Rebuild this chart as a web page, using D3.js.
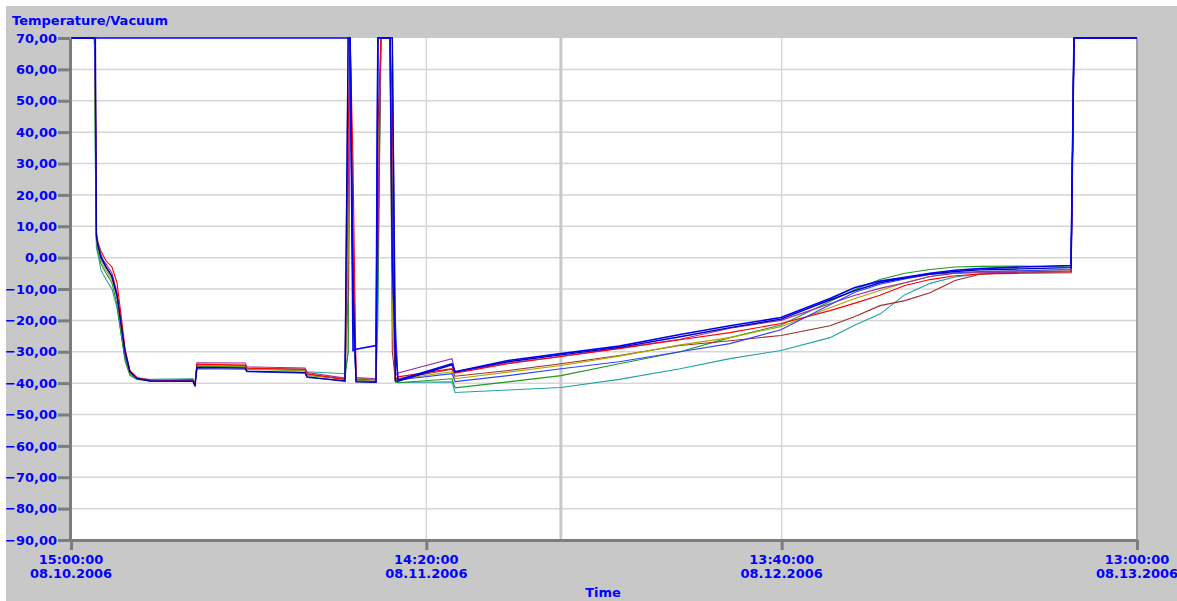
<!DOCTYPE html>
<html><head><meta charset="utf-8">
<script src="https://cdn.jsdelivr.net/npm/d3@7"></script>
<style>
html,body{margin:0;padding:0;background:#fff;}
svg{display:block;}
text{font-family:"DejaVu Sans","Liberation Sans",Arial,sans-serif;font-weight:bold;fill:#0000ff;}
</style></head><body>
<svg id="chart" width="1177" height="601"></svg>
<script>
// ---- data (hours since 08.10.2006 15:00:00) ----
const hours = [0, 1.54, 1.60, 1.67, 1.77, 1.97, 2.30, 2.69, 3.02, 3.28, 3.55, 3.87, 4.33, 5.19, 8.01, 8.14, 8.27, 11.43, 11.56, 15.37, 15.50, 17.99, 18.20, 18.33, 18.52, 18.72, 20.03, 20.15, 20.35, 20.95, 21.10, 21.30, 21.47, 25.02, 25.22, 28.70, 32.18, 36.00, 40.00, 43.27, 46.62, 49.84, 51.48, 53.12, 54.76, 56.41, 58.05, 59.69, 62.32, 65.67, 65.86, 70.00];

const teal = [70, 70, 30, 3, 1,  -4, -7, -10, -16, -24,  -32, -37, -38.5, -38.8, -38.6,
  -40.5, -34.8, -34.6, -35.2, -35.6,  -36.4, -37.0, -30, 70, -20,  -38.8, -38.9, -20, 70, 70,
  -10, -39.5, -39.8, -39.6, -43.0,  -42.2, -41.4, -38.8, -35.4, -32.2,  -29.6, -25.5, -21.5, -18.0, -11.8,
  -8.2, -6.2, -5.2, -4.8, -4.6,  70, 70];
const green = [70, 70, 35, 5, 2,  -2, -5, -8, -15, -24,  -33, -37.5, -38.8, -39.3, -38.8,
  -40.6, -34.6, -34.8, -35.6, -36.0,  -37.6, -38.6, -30, 70, -10,  -39.2, -39.4, -10, 70, 70,
  20, -39.6, -39.9, -38.6, -41.5,  -39.6, -37.6, -33.8, -30.0, -25.5,  -21.5, -14.0, -10.2, -7.0, -5.0,
  -3.8, -3.0, -2.8, -2.7, -3.0,  70, 70];
const maroon = [70, 70, 50, 6, 3,  0, -3, -6, -12, -21,  -31, -36.5, -38.5, -39.2, -39.3,
  -40.8, -34.2, -34.4, -35.4, -35.8,  -37.2, -38.8, -10, 70, -5,  -38.6, -39.0, 0, 70, 70,
  -30, -38.9, -38.6, -35.6, -37.8,  -36.0, -33.8, -31.2, -28.0, -26.5,  -24.8, -21.7, -18.8, -15.3, -13.7,
  -11.2, -7.3, -5.3, -4.6, -4.2,  70, 70];
const olive = [70, 70, 45, 6, 3,  -1, -4, -7, -13, -22,  -31, -36.8, -38.6, -39.1, -39.2,
  -40.7, -34.4, -34.6, -35.5, -35.9,  -37.4, -38.6, 0, 70, 10,  -38.4, -38.8, 30, 70, 70,
  -20, -38.5, -38.8, -36.4, -38.6,  -36.5, -34.4, -31.4, -27.8, -25.5,  -22.0, -16.0, -13.0, -10.5, -8.0,
  -6.0, -5.0, -4.6, -4.2, -3.8,  70, 70];
const purple = [70, 70, 55, 7, 4,  0, -2, -5, -11, -20,  -30, -36.2, -38.4, -39.1, -39.2,
  -40.6, -33.5, -33.6, -34.8, -35.2,  -36.6, -38.4, 20, 70, 0,  -38.2, -38.6, 10, 70, 70,
  0, -37.5, -36.8, -32.2, -36.6,  -33.6, -31.5, -28.8, -26.0, -22.5,  -20.0, -14.7, -12.0, -9.8, -8.0,
  -6.0, -5.0, -4.8, -4.6, -4.4,  70, 70];
const red = [70, 70, 60, 8, 5,  2, -1, -3, -8, -18,  -29, -36, -38.2, -39.0, -39.1,
  -40.5, -34.0, -34.2, -35.2, -35.6,  -37.0, -38.8, 40, 70, 30,  -39.3, -39.5, 40, 70, 70,
  50, -38.8, -38.0, -35.4, -36.8,  -33.8, -31.5, -29.0, -26.2, -23.9,  -21.0, -16.9, -14.5, -12.0, -8.9,
  -7.0, -5.8, -5.2, -5.0, -4.8,  70, 70];
const blueLow = [70, 70, 50, 6, 4,  1, -3, -6, -12, -21,  -31, -36.5, -38.6, -39.3, -39.4,
  -40.8, -35.4, -35.6, -36.4, -36.8,  -38.2, -39.2, 70, 70, -20,  -39.4, -39.6, 70, 70, 70,
  70, -20, -39.0, -37.0, -39.5,  -37.6, -35.4, -33.2, -30.0, -27.4,  -23.0, -15.0, -11.0, -8.5, -6.8,
  -5.4, -4.8, -4.4, -4.2, -3.8,  70, 70];
const navy = [70, 70, 70, 7, 4,  0, -3, -6, -12, -21,  -30, -36.4, -38.5, -39.3, -39.4,
  -40.9, -35.0, -35.2, -36.2, -36.6,  -38.0, -39.4, 70, 70, -10,  -39.6, -39.7, 70, 70, 70,
  70, -39.2, -39.4, -34.2, -36.4,  -33.2, -31.0, -28.6, -25.2, -22.3,  -19.6, -13.5, -10.5, -8.0, -6.5,
  -5.2, -4.4, -3.9, -3.6, -3.2,  70, 70];
const blueTop = [70, 70, 70, 70, 70,  70, 70, 70, 70, 70,  70, 70, 70, 70, 70,
  70, 70, 70, 70, 70,  70, 70, 70, 70, -29.6,  -29.2, -28.0, 70, 70, 70,
  -2.5, -27.5, -39.0, -33.8, -36.4,  -32.8, -30.6, -28.2, -24.5, -21.7,  -19.1, -13.0, -9.5, -7.5, -6.3,
  -5.0, -4.0, -3.5, -3.0, -2.5,  70, 70];

const seriesNames = ["teal", "green", "maroon", "olive", "purple", "red", "blueLow", "navy", "blueTop"];
const seriesValues = [teal, green, maroon, olive, purple, red, blueLow, navy, blueTop];
const seriesColors = ["#26a0a0", "#1f981f", "#a02c2c", "#a8a800", "#a028a0", "#ff0000", "#3040ff", "#0000b0", "#0000ff"];
const seriesWidths = [1.1, 1.1, 1.1, 1.1, 1.1, 1.1, 1.1, 1.4, 1.6];

const yTicks = [70, 60, 50, 40, 30, 20, 10, 0, -10, -20, -30, -40, -50, -60, -70, -80, -90];
const xTickHours = [0, 23.3333, 46.6667, 70];
const xTickTimes = ["15:00:00", "14:20:00", "13:40:00", "13:00:00"];
const xTickDates = ["08.10.2006", "08.11.2006", "08.12.2006", "08.13.2006"];
const cursorHour = 32.17;
const title = "Temperature/Vacuum";
const xTitle = "Time";

// ---- drawing ----
const W = 1177, H = 601;
const svg = d3.select("#chart");
svg.append("rect").attr("x", 6).attr("y", 6).attr("width", W - 6).attr("height", H - 6).attr("fill", "#c8c8c8");

const x = d3.scaleLinear().domain([0, 70]).range([71, 1137]);
const y = d3.scaleLinear().domain([-90, 70]).range([540, 38]);

svg.append("rect").attr("x", x(0)).attr("y", y(70)).attr("width", x(70) - x(0)).attr("height", y(-90) - y(70)).attr("fill", "#ffffff");

// grid
svg.append("g").selectAll("line").data(yTicks.filter(v => v > -90 && v < 70)).join("line")
  .attr("x1", x(0)).attr("x2", x(70)).attr("y1", d => y(d)).attr("y2", d => y(d))
  .attr("stroke", "#d6d6d6").attr("stroke-width", 1.5);
svg.append("g").selectAll("line").data(xTickHours.filter(v => v > 0 && v < 70)).join("line")
  .attr("x1", d => x(d)).attr("x2", d => x(d)).attr("y1", y(70)).attr("y2", y(-90))
  .attr("stroke", "#d6d6d6").attr("stroke-width", 1.5);
svg.append("line").attr("x1", x(cursorHour)).attr("x2", x(cursorHour)).attr("y1", y(70)).attr("y2", y(-90))
  .attr("stroke", "#c8c8c8").attr("stroke-width", 3);
// right border
svg.append("line").attr("x1", x(70)).attr("x2", x(70)).attr("y1", y(70)).attr("y2", y(-90))
  .attr("stroke", "#a0a0a0").attr("stroke-width", 2);

// lines
const line = d3.line().x((d, i) => x(hours[i])).y(d => y(d));
const gl = svg.append("g");
seriesValues.forEach((vals, k) => {
  gl.append("path").datum(vals).attr("d", line).attr("fill", "none")
    .attr("stroke", seriesColors[k]).attr("stroke-width", seriesWidths[k])
    .attr("stroke-linejoin", "miter").attr("class", seriesNames[k]);
});

// y axis
const yAxis = d3.axisLeft(y).tickValues(yTicks).tickSize(12).tickSizeOuter(0).tickPadding(1)
  .tickFormat(d => d3.format(".2f")(d).replace(".", ","));
const ya = svg.append("g").attr("transform", `translate(${x(0) - 1},0)`).call(yAxis);
ya.select(".domain").attr("stroke", "#7c7c7c").attr("stroke-width", 3);
ya.selectAll(".tick line").attr("stroke", "#7c7c7c").attr("stroke-width", 3);
ya.selectAll(".tick text").attr("fill", "#0000ff").style("font-size", "13px")
  .style("font-family", "'DejaVu Sans', sans-serif").style("font-weight", "bold");

// x axis
const xAxis = d3.axisBottom(x).tickValues(xTickHours).tickSize(10).tickSizeOuter(0).tickFormat("");
const xa = svg.append("g").attr("transform", `translate(0,${y(-90)})`).call(xAxis);
xa.select(".domain").attr("stroke", "#7c7c7c").attr("stroke-width", 3);
xa.selectAll(".tick line").attr("stroke", "#7c7c7c").attr("stroke-width", 3);
const xl = svg.append("g").selectAll("text").data(xTickHours).join("text")
  .attr("text-anchor", "middle").style("font-size", "13px");
xl.append("tspan").attr("x", d => x(d)).attr("y", 564).text((d, i) => xTickTimes[i]);
xl.append("tspan").attr("x", d => x(d)).attr("y", 578).text((d, i) => xTickDates[i]);

svg.append("text").attr("x", 12).attr("y", 25).style("font-size", "13px").text(title);
svg.append("text").attr("x", 603).attr("y", 597).attr("text-anchor", "middle").style("font-size", "13px").text(xTitle);
</script>
</body></html>
